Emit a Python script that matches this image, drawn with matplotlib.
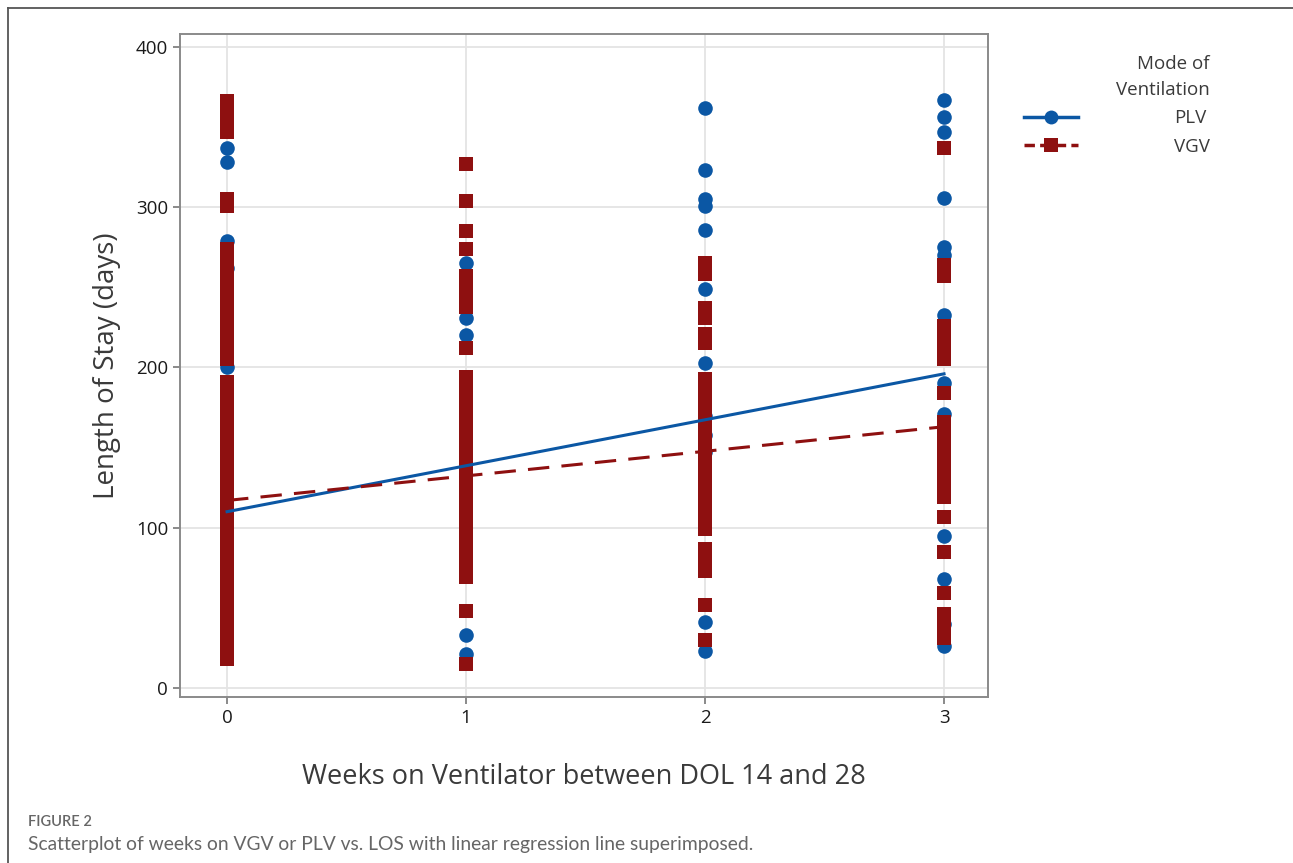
import numpy as np
import matplotlib.pyplot as plt
from matplotlib.lines import Line2D

plt.rcParams['font.family'] = ['Open Sans', 'DejaVu Sans']

# weeks on ventilator between DOL 14 and 28
weeks = [0, 1, 2, 3]

# length of stay (days), PLV patients, one list per week
plv_w0 = [337, 328, 279, 262, 200]
plv_w1 = [265, 231, 220, 33, 21]
plv_w2 = [362, 323, 305, 301, 286, 249, 203, 170, 158, 147, 41, 23]
plv_w3 = [367, 356, 347, 306, 275, 270, 233, 190, 171, 95, 68, 40, 26]

# length of stay (days), VGV patients, one list per week
vgv_w0 = [366, 359, 352, 347, 305, 301,
          274, 268, 261, 254, 247, 240, 233, 226, 219, 212, 205,
          191, 184, 178, 171, 164, 157, 150, 143, 137, 130, 123, 116, 110,
          103, 96, 89, 83, 76, 69, 62, 55, 49, 42, 35, 28, 22, 18]
vgv_w1 = [327, 304, 285, 274, 257, 251, 244, 238, 212,
          194, 187, 180, 173, 166, 159, 152, 145, 138, 131, 124, 117, 110,
          103, 96, 89, 82, 76, 69, 48, 15]
vgv_w2 = [265, 258, 237, 231, 221, 215,
          193, 186, 179, 172, 165, 158, 151, 144, 137, 130, 123, 116, 109,
          102, 99, 87, 80, 73, 52, 30]
vgv_w3 = [337, 264, 257, 226, 219, 212, 205, 184,
          166, 159, 152, 145, 138, 131, 124, 119, 107, 85, 59, 46, 39, 31]

# fitted regression lines (value at week 0 and week 3)
fit_weeks = [0, 3]
plv_fit = [110, 196]
vgv_fit = [117, 163]

plv_color = '#0b57a4'
vgv_color = '#8e1010'

plv_data = [plv_w0, plv_w1, plv_w2, plv_w3]
vgv_data = [vgv_w0, vgv_w1, vgv_w2, vgv_w3]

fig = plt.figure(figsize=(12.93, 8.63), dpi=100)
ax = fig.add_axes([180/1293, 1 - 697/863, 808/1293, 663/863])

for w, vals in zip(weeks, plv_data):
    ax.plot([w]*len(vals), vals, 'o', color=plv_color, ms=10.5, mew=0, zorder=3)
for w, vals in zip(weeks, vgv_data):
    ax.plot([w]*len(vals), vals, 's', color=vgv_color, ms=10.5, mew=0, zorder=4)

ax.plot(fit_weeks, plv_fit, '-', color=plv_color, lw=2.2, zorder=5)
ax.plot(fit_weeks, vgv_fit, '--', color=vgv_color, lw=2.2, dashes=(7, 4), zorder=5)

ax.set_xlim(-0.197, 3.184)
ax.set_ylim(-5.6, 408)
ax.set_xticks(weeks)
ax.set_yticks([0, 100, 200, 300, 400])
ax.grid(True, color='#e4e4e4', lw=1.3)
ax.set_axisbelow(True)
for s in ax.spines.values():
    s.set_color('#8a8a8a')
    s.set_linewidth(1.4)
ax.tick_params(colors='#8a8a8a', labelcolor='#1a1a1a', labelsize=13.5, length=5, width=1.4)

ax.set_xlabel('Weeks on Ventilator between DOL 14 and 28', fontsize=19.5, color='#3a3a3a', labelpad=26)
ax.set_ylabel('Length of Stay (days)', fontsize=20, color='#3a3a3a', labelpad=11)

handles = [Line2D([], [], color=plv_color, lw=2.5, marker='o', ms=10, mew=0),
           Line2D([], [], color=vgv_color, lw=2.5, ls='--', dashes=(3, 1.5), marker='s', ms=10, mew=0)]
leg = fig.legend(handles, ['PLV', 'VGV'], title='Mode of\nVentilation', loc='upper right',
                 bbox_to_anchor=(1219/1293, 1 - 46/863), frameon=False, fontsize=13.5,
                 title_fontsize=13.5, handlelength=2.9, handletextpad=5.1, alignment='right',
                 borderpad=0, labelspacing=0.55)
leg.get_title().set_multialignment('right')
leg.get_title().set_linespacing(1.55)
leg.get_title().set_color('#3a3a3a')
for t in leg.get_texts():
    t.set_color('#3a3a3a')

# outer frame of the figure panel
fig.add_artist(Line2D([8/1293, 1], [1 - 8/863, 1 - 8/863], transform=fig.transFigure, color='#555555', lw=1.3))
fig.add_artist(Line2D([8/1293, 8/1293], [0, 1 - 8/863], transform=fig.transFigure, color='#555555', lw=1.3))

fig.text(28/1293, 1 - 822/863, 'FIGURE 2', fontsize=10.5, color='#666666', fontweight='semibold',
         va='center', family=['Lato', 'DejaVu Sans'])
fig.text(28/1293, 1 - 844/863, 'Scatterplot of weeks on VGV or PLV vs. LOS with linear regression line superimposed.',
         fontsize=13.9, color='#666666', va='center', family=['Lato', 'DejaVu Sans'])

fig.savefig('out.png', dpi=100)
